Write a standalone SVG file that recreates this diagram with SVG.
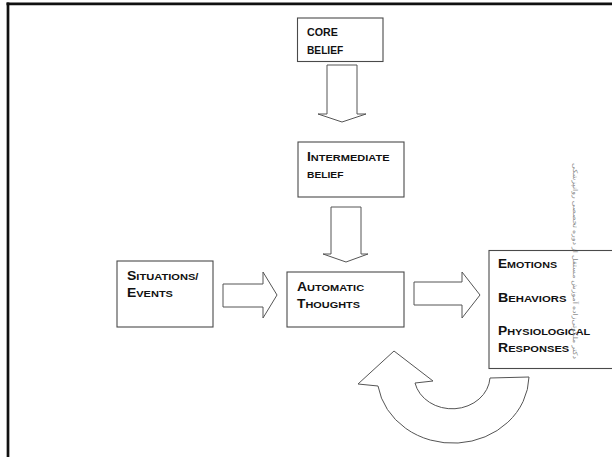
<svg xmlns="http://www.w3.org/2000/svg" width="612" height="457" viewBox="0 0 612 457">
<style>
.box{fill:#fff;stroke:#4a4a4a;stroke-width:1.1}
.arr{fill:#fff;stroke:#555;stroke-width:1}
.t{font-family:"Liberation Sans",Arial,sans-serif;font-weight:bold;font-size:9.5px;fill:#111}
.L{font-size:12px}
.c{font-size:10.5px}
.wm{font-family:"Noto Sans","DejaVu Sans",sans-serif;font-size:6.5px;fill:#8a8a8a}
</style>
<rect x="0" y="0" width="612" height="457" fill="#fff"/>
<g id="frame">
<line x1="6.5" y1="3.8" x2="612" y2="3.8" stroke="#111" stroke-width="2.8"/>
<line x1="8" y1="2.5" x2="8" y2="457" stroke="#111" stroke-width="2.7"/>
</g>
<g id="connectors">
<path class="arr" d="M327 65 H357 V114 H366 L342 122 L318 114 H327 Z"/>
<path class="arr" d="M331 207 H361 V254 H368 L346 262 L323 254 H331 Z"/>
<path class="arr" d="M223 284 H263 V272 L277 295 L263 318 V307 H223 Z"/>
<path class="arr" d="M414 282 H462 V272 L480 295 L462 318 V305 H414 Z"/>
<path class="arr" d="M490 378 L529 377 A76 68 0 0 1 378 386 L358 384 L394 351 L433 381 L415 383 A38 33 0 0 0 490 378 Z"/>
</g>
<g id="core">
<rect class="box" x="297.5" y="18" width="85.5" height="43.5"/>
<text class="t c" transform="translate(307 36) scale(1.02 1)">CORE</text>
<text class="t c" transform="translate(307 54) scale(0.97 1)">BELIEF</text>
</g>
<g id="intermediate">
<rect class="box" x="298" y="142" width="106" height="55"/>
<text class="t" transform="translate(307 161) scale(1.16 1)"><tspan class="L">I</tspan>NTERMEDIATE</text>
<text class="t" transform="translate(307 178) scale(1.08 1)">BELIEF</text>
</g>
<g id="situations">
<rect class="box" x="117" y="261" width="96" height="66"/>
<text class="t" transform="translate(127 280) scale(1.17 1)"><tspan class="L">S</tspan>ITUATIONS/</text>
<text class="t" transform="translate(127 297) scale(1.16 1)"><tspan class="L">E</tspan>VENTS</text>
</g>
<g id="automatic">
<rect class="box" x="287" y="272" width="117" height="55"/>
<text class="t" transform="translate(297 291) scale(1.16 1)"><tspan class="L">A</tspan>UTOMATIC</text>
<text class="t" transform="translate(297 308) scale(1.15 1)"><tspan class="L">T</tspan>HOUGHTS</text>
</g>
<g id="responses">
<rect class="box" x="489" y="250.5" width="130" height="118"/>
<text class="t" transform="translate(498 268) scale(1.13 1)"><tspan class="L">E</tspan>MOTIONS</text>
<text class="t" transform="translate(498 302) scale(1.19 1)"><tspan class="L">B</tspan>EHAVIORS</text>
<text class="t" transform="translate(498 335) scale(1.15 1)"><tspan class="L">P</tspan>HYSIOLOGICAL</text>
<text class="t" transform="translate(498 352) scale(1.17 1)"><tspan class="L">R</tspan>ESPONSES</text>
</g>
<g id="watermark">
<text class="wm" transform="translate(573 261) rotate(90)" text-anchor="middle" direction="rtl" textLength="196" lengthAdjust="spacingAndGlyphs">دکتر ملکوتی‌زاده آموزش مستقل از دوره تخصصی روانپزشکی</text>
</g>
</svg>
